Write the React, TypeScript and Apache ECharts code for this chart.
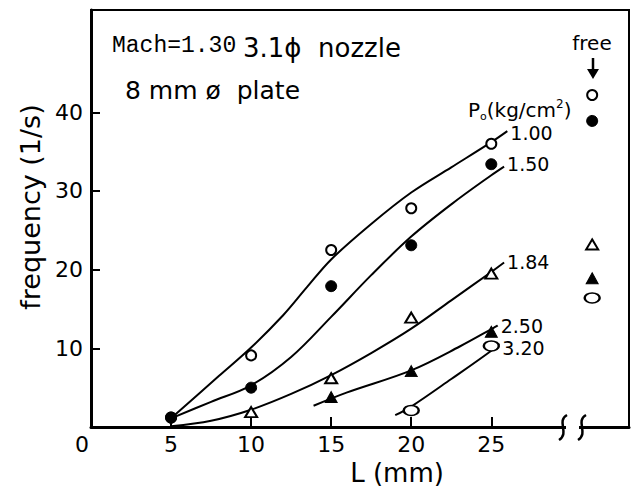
import React, { useEffect, useRef } from "react";
import * as echarts from "echarts";

// measured points: L (mm) vs frequency (1/s)
const L_POINTS = [5, 10, 15, 20, 25];
const F_100 = [1.2, 9.1, 22.5, 27.8, 36.0];
const F_150 = [1.2, 5.0, 17.9, 23.1, 33.4];
const F_184 = [null, 1.9, 6.2, 13.9, 19.5];
const F_250 = [null, null, 3.8, 7.1, 12.1];
const F_320 = [null, null, null, 2.1, 10.3];

// free-jet values (plotted in the "free" column)
const FREE_POS = 31.3;
const FREE_VALUES = [42.2, 38.9, 23.2, 18.9, 16.4];

// fitted curves [L, f]
const CURVE_100 = [[5, 1.1], [8, 6.5], [10, 10.1], [12, 14.2], [13.5, 17.8], [15, 21.3], [17.5, 25.8], [20, 29.8], [22.5, 33.0], [25, 36.2], [26, 37.6]];
const CURVE_150 = [[5, 1.1], [7.5, 3.2], [10, 5.3], [12.5, 8.9], [15, 14.0], [17.5, 19.3], [20, 24.2], [22.5, 28.3], [25, 32.0], [25.8, 33.1]];
const CURVE_184 = [[5, 0.1], [7.5, 0.8], [10, 2.2], [12.5, 4.2], [15, 6.6], [17.5, 9.4], [20, 12.5], [22.5, 16.1], [25, 19.7], [25.8, 20.9]];
const CURVE_250 = [[13.9, 2.7], [16, 4.4], [20, 7.2], [23, 10.2], [25.4, 12.9]];
const CURVE_320 = [[19, 1.5], [20, 2.6], [22.5, 6.1], [25, 9.7], [25.5, 10.6]];

const PRESSURES = ["1.00", "1.50", "1.84", "2.50", "3.20"];
const X_TICKS = [0, 5, 10, 15, 20, 25];
const Y_TICKS = [10, 20, 30, 40];

const SANS = '"DejaVu Sans", sans-serif';
const ELLIPSE = "path://M-10,0 A10,6 0 1,0 10,0 A10,6 0 1,0 -10,0 Z";

export default function App() {
  const ref = useRef<HTMLDivElement>(null);
  useEffect(() => {
    if (!ref.current) return;
    const chart = echarts.init(ref.current, null, { renderer: "svg" });

    const measured = [F_100, F_150, F_184, F_250, F_320];
    const curves = [CURVE_100, CURVE_150, CURVE_184, CURVE_250, CURVE_320];
    const markers: any[] = [
      { symbol: "circle", size: 10, fill: "#fff" },
      { symbol: "circle", size: 11, fill: "#000" },
      { symbol: "triangle", size: [12, 10], fill: "#fff" },
      { symbol: "triangle", size: [12, 11], fill: "#000" },
      { symbol: ELLIPSE, size: [15, 10], fill: "#fff" },
    ];
    const labelOffsets = [[0, 2], [0, -3], [0, -1], [0, 0], [0, 4]];

    const series: any[] = [];
    curves.forEach((c, i) => {
      series.push({
        type: "line",
        name: PRESSURES[i],
        data: c,
        smooth: 0.35,
        showSymbol: false,
        symbol: "none",
        lineStyle: { color: "#000", width: 2 },
        z: 2,
        endLabel: {
          show: true,
          formatter: PRESSURES[i],
          color: "#000",
          fontFamily: SANS,
          fontSize: 19,
          distance: 3,
          offset: labelOffsets[i],
        },
      });
    });
    measured.forEach((vals, i) => {
      const pts: any[] = [];
      L_POINTS.forEach((x, j) => {
        if (vals[j] != null) pts.push([x, vals[j]]);
      });
      pts.push([FREE_POS, FREE_VALUES[i]]);
      const m = markers[i];
      series.push({
        type: "scatter",
        name: "pts" + PRESSURES[i],
        data: pts,
        symbol: m.symbol,
        symbolSize: m.size,
        symbolKeepAspect: false,
        itemStyle: { color: m.fill, borderColor: "#000", borderWidth: m.fill === "#fff" ? 2 : 1, opacity: 1 },
        z: 5,
      });
    });

    const brk = (c: number) => ({
      type: "bezierCurve",
      shape: { x1: c + 4, y1: 415, cpx1: c - 7, cpy1: 421, cpx2: c + 7, cpy2: 433, x2: c - 4, y2: 440 },
      style: { stroke: "#000", lineWidth: 2.5, fill: null },
      z: 100,
    });

    chart.setOption({
      animation: false,
      backgroundColor: "#fff",
      grid: { left: 91, right: 3, top: 10, bottom: 64, show: true, borderColor: "#000", borderWidth: 2, backgroundColor: "transparent" },
      xAxis: {
        type: "value",
        min: 0,
        max: 33.6,
        interval: 5,
        splitLine: { show: false },
        axisLine: { show: true, lineStyle: { color: "#000", width: 3 } },
        axisTick: { show: true, inside: true, length: 10, lineStyle: { color: "#000", width: 2 }, customValues: [5, 10, 15, 20, 25] },
        axisLabel: {
          customValues: X_TICKS,
          color: "#000",
          fontFamily: SANS,
          fontSize: 22,
          margin: 6,
          formatter: (v: number) => (v === 0 ? "{z|0}" : String(v)),
          rich: { z: { fontFamily: SANS, fontSize: 22, color: "#000", padding: [0, 18, 0, 0] } },
        },
      },
      yAxis: {
        type: "value",
        min: 0,
        max: 53,
        interval: 10,
        splitLine: { show: false },
        axisLine: { show: true, lineStyle: { color: "#000", width: 3 } },
        axisTick: { show: true, inside: true, length: 9, lineStyle: { color: "#000", width: 2 }, customValues: Y_TICKS },
        axisLabel: { customValues: Y_TICKS, color: "#000", fontFamily: SANS, fontSize: 22, margin: 8 },
      },
      series,
      graphic: [
        { type: "rect", shape: { x: 566, y: 422, width: 13, height: 10 }, style: { fill: "#fff" }, z: 99 },
        brk(563),
        brk(582),
        { type: "text", x: 112, y: 46, z: 100, style: { text: "Mach=1.30", font: '23px "Liberation Mono", monospace', fill: "#000", verticalAlign: "middle" } },
        { type: "text", x: 243, y: 48, z: 100, style: { text: "3.1ϕ  nozzle", font: '26px "DejaVu Sans"', fill: "#000", verticalAlign: "middle" } },
        { type: "text", x: 125, y: 90, z: 100, style: { text: "8 mm ø  plate", font: '25px "DejaVu Sans"', fill: "#000", verticalAlign: "middle" } },
        {
          type: "text", x: 468, y: 110, z: 100,
          style: {
            text: "{a|P}{b|o}{a|(kg/cm}{c|2}{a|)}",
            verticalAlign: "middle",
            rich: {
              a: { fontFamily: SANS, fontSize: 20, lineHeight: 24, color: "#000" },
              b: { fontFamily: SANS, fontSize: 11, lineHeight: 12, verticalAlign: "bottom", color: "#000" },
              c: { fontFamily: SANS, fontSize: 12, lineHeight: 12, verticalAlign: "top", color: "#000" },
            },
          },
        },
        { type: "text", x: 592, y: 43, z: 100, style: { text: "free", font: '20px "DejaVu Sans"', fill: "#000", align: "center", verticalAlign: "middle" } },
        { type: "line", shape: { x1: 593, y1: 58, x2: 593, y2: 72 }, style: { stroke: "#000", lineWidth: 2.5 }, z: 100 },
        { type: "polygon", shape: { points: [[587, 69], [599, 69], [593, 79]] }, style: { fill: "#000" }, z: 100 },
        { type: "text", x: 30, y: 207, rotation: Math.PI / 2, z: 100, style: { text: "frequency (1/s)", font: '27px "DejaVu Sans"', fill: "#000", align: "center", verticalAlign: "middle" } },
        { type: "text", x: 397, y: 473, z: 100, style: { text: "L (mm)", font: '26px "DejaVu Sans"', fill: "#000", align: "center", verticalAlign: "middle" } },
      ],
    });
    return () => chart.dispose();
  }, []);
  return <div ref={ref} style={{ position: "absolute", left: 0, top: 0, width: 632, height: 491 }} />;
}
